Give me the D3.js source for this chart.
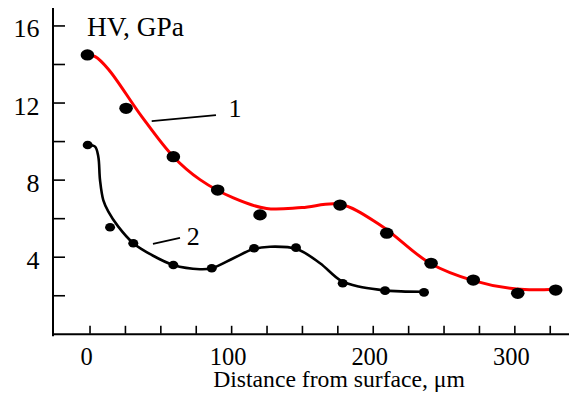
<!DOCTYPE html>
<html>
<head>
<meta charset="utf-8">
<script src="https://cdn.jsdelivr.net/npm/d3@7"></script>
<style>
  html, body { margin: 0; padding: 0; background: #fff; }
  svg { display: block; }
</style>
</head>
<body>
<svg id="chart" width="569" height="400"></svg>
<script>
// ---- Data ----
// Series 1 (red) measured points
const redX = [-1.5, 25.8, 59.2, 90.5, 120.4, 176.9, 209.9, 241.2, 271, 302.4, 329.2];
const redY = [14.47, 11.70, 9.19, 7.46, 6.17, 6.68, 5.22, 3.66, 2.79, 2.10, 2.27];
// Series 1 fitted curve
const redCurveX = [0, 4, 13.3, 36.9, 59.2, 78, 101.6, 125, 150, 176.9, 205.2, 240.5, 271, 301.7, 328.7];
const redCurveY = [14.45, 14.38, 13.73, 11.27, 9.19, 8.0, 7.05, 6.5, 6.55, 6.72, 5.65, 3.66, 2.76, 2.32, 2.31];
// Series 2 (black) measured points
const blackX = [-1.3, 14.5, 30.9, 59.2, 86.3, 116.2, 145.8, 178.8, 208.7, 236.2];
const blackY = [9.8, 5.53, 4.70, 3.57, 3.40, 4.44, 4.47, 2.62, 2.24, 2.15];
// Series 2 fitted curve
const blackCurveX = [-1, 3.9, 6.2, 7.4, 9.7, 13.3, 20.3, 30.9, 43.9, 59.2, 78, 86.3, 101.6, 115.7, 127.5, 146.3, 162.8, 176.9, 190, 205.2, 220, 236.2];
const blackCurveY = [9.8, 9.71, 9.19, 7.98, 6.94, 6.34, 5.56, 4.70, 4.09, 3.57, 3.35, 3.40, 3.92, 4.40, 4.52, 4.40, 3.66, 2.79, 2.45, 2.28, 2.2, 2.18];

// Axis ticks
const xTicks = [0, 25, 50, 75, 100, 125, 150, 175, 200, 225, 250, 275, 300, 325];
const xTickLabels = ["0", "", "", "", "100", "", "", "", "200", "", "", "", "300", ""];
const yTicks = [2, 4, 6, 8, 10, 12, 14, 16];
const yTickLabels = ["", "4", "", "8", "", "12", "", "16"];

const xTitle = "Distance from surface, \u03bcm";
const yTitle = "HV, GPa";

// Curve labels: name, leader start (x,y), leader end (x,y), text (x,y)
const curveNames = ["1", "2"];
const leaderStart = [[43.9, 11.04], [44.8, 4.67]];
const leaderEnd = [[89.3, 11.35], [63.9, 4.98]];
const namePos = [[102.8, 11.25], [73.3, 4.61]];

// ---- Drawing ----
const FONT = '"Liberation Serif", "Tinos", "Times New Roman", "DejaVu Serif", serif';
const svg = d3.select("#chart");
svg.style("font-family", FONT);

// size a font so that a sample string spans a target width (font-independent layout)
function fitSize(sample, targetWidth) {
  const t = svg.append("text").attr("font-size", 100).style("font-family", FONT).text(sample);
  const w = t.node().getComputedTextLength();
  t.remove();
  return w > 0 ? 100 * targetWidth / w : 24;
}
const yTickSize = fitSize("16", 26);
const xTickSize = fitSize("100", 36.7);
const titleSize = fitSize(xTitle, 252);
const yTitleSize = fitSize(yTitle, 97);

const x = d3.scaleLinear().domain([-25.8, 338.6]).range([53, 569]);
const y = d3.scaleLinear().domain([0, 16.9]).range([333.8, 8.1]);

// axes
const xAxis = d3.axisBottom(x).tickValues(xTicks).tickSize(-8).tickSizeOuter(0)
  .tickFormat((d, i) => xTickLabels[i]);
const gx = svg.append("g").attr("transform", `translate(0,${y(0)})`).call(xAxis);
gx.attr("font-family", null).attr("font-size", null);
gx.select(".domain").attr("stroke", "#000").attr("stroke-width", 2);
gx.selectAll(".tick line").attr("stroke", "#000").attr("stroke-width", 1.6);
gx.selectAll(".tick text").attr("font-size", xTickSize).style("font-family", FONT).attr("fill", "#000")
  .attr("y", 31.5).attr("dy", 0).attr("dx", -3.5);

const yAxis = d3.axisLeft(y).tickValues(yTicks).tickSize(-12).tickSizeOuter(0)
  .tickFormat((d, i) => yTickLabels[i]);
const gy = svg.append("g").attr("transform", `translate(${x(-25.8)},0)`).call(yAxis);
gy.attr("font-family", null).attr("font-size", null);
gy.select(".domain").remove();
gy.append("line").attr("x1", 0).attr("x2", 0).attr("y1", y(16.9)).attr("y2", y(0) + 2.5)
  .attr("stroke", "#000").attr("stroke-width", 2);
gy.selectAll(".tick line").attr("stroke", "#000").attr("stroke-width", 1.6);
gy.selectAll(".tick text").attr("font-size", yTickSize).style("font-family", FONT).attr("fill", "#000")
  .attr("x", -13.5).attr("dy", 0).attr("y", 11.5);

// axis titles
svg.append("text").attr("x", x(176.2)).attr("y", 387).attr("text-anchor", "middle")
  .attr("font-size", titleSize).style("font-family", FONT).attr("fill", "#000").text(xTitle);
svg.append("text").attr("x", x(-1.8)).attr("y", y(16) + 10.5).attr("text-anchor", "start")
  .attr("font-size", yTitleSize).style("font-family", FONT).attr("fill", "#000").text(yTitle);

// curves
const line = d3.line().x(d => x(d[0])).y(d => y(d[1])).curve(d3.curveCatmullRom.alpha(0.5));
const redCurve = redCurveX.map((v, i) => [v, redCurveY[i]]);
const blackCurve = blackCurveX.map((v, i) => [v, blackCurveY[i]]);
svg.append("path").attr("d", line(redCurve)).attr("fill", "none").attr("stroke", "#ff0000").attr("stroke-width", 3);
svg.append("path").attr("d", line(blackCurve)).attr("fill", "none").attr("stroke", "#000").attr("stroke-width", 2.6);

// points
svg.append("g").selectAll("ellipse").data(redX.map((v, i) => [v, redY[i]])).join("ellipse")
  .attr("cx", d => x(d[0])).attr("cy", d => y(d[1])).attr("rx", 6.8).attr("ry", 5.6).attr("fill", "#000");
svg.append("g").selectAll("ellipse").data(blackX.map((v, i) => [v, blackY[i]])).join("ellipse")
  .attr("cx", d => x(d[0])).attr("cy", d => y(d[1])).attr("rx", 5).attr("ry", 4.3).attr("fill", "#000");

// curve labels with leaders
curveNames.forEach((n, i) => {
  svg.append("line")
    .attr("x1", x(leaderStart[i][0])).attr("y1", y(leaderStart[i][1]))
    .attr("x2", x(leaderEnd[i][0])).attr("y2", y(leaderEnd[i][1]))
    .attr("stroke", "#000").attr("stroke-width", 1.8);
  svg.append("text").attr("x", x(namePos[i][0])).attr("y", y(namePos[i][1]))
    .attr("text-anchor", "middle").attr("font-size", yTickSize).style("font-family", FONT)
    .attr("fill", "#000").text(n);
});
</script>
</body>
</html>
